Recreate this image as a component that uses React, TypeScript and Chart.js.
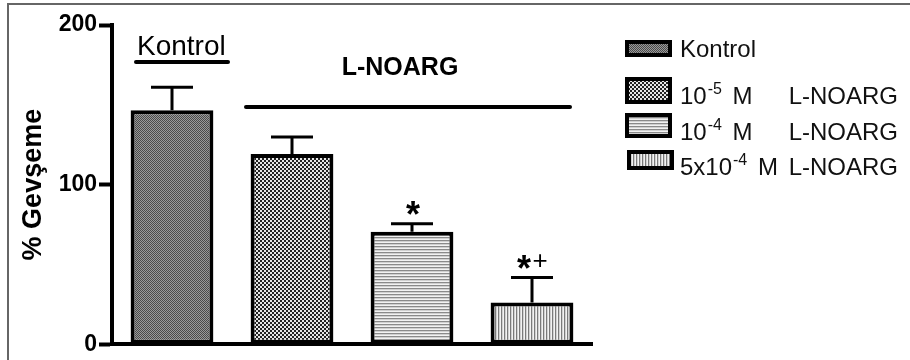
import React, { useEffect, useRef } from "react";
import { Chart, registerables } from "chart.js";
Chart.register(...registerables);

const categories = ["Kontrol", "10^-5 M L-NOARG", "10^-4 M L-NOARG", "5x10^-4 M L-NOARG"];
const means = [146.6, 119.2, 70.5, 26.2];
const sem = [14.4, 10.6, 5.0, 15.6];
const marks = ["", "", "*", "*+"];
const yMin = 0;
const yMax = 200;
const yStep = 100;
const yTitle = "% Gevşeme";
const groupKontrol = "Kontrol";
const groupNoarg = "L-NOARG";
const legendPrefix = [
  [{ t: "Kontrol", sup: false }],
  [{ t: "10", sup: false }, { t: "-5", sup: true }, { t: " M", sup: false }],
  [{ t: "10", sup: false }, { t: "-4", sup: true }, { t: " M", sup: false }],
  [{ t: "5x10", sup: false }, { t: "-4", sup: true }, { t: " M", sup: false }],
];
const legendSuffix = ["", "L-NOARG", "L-NOARG", "L-NOARG"];

const FONT = "'Liberation Sans', Arial, Helvetica, sans-serif";

function makePattern(ctx: CanvasRenderingContext2D, w: number, h: number, draw: (c: CanvasRenderingContext2D) => void) {
  const cv = document.createElement("canvas");
  cv.width = w;
  cv.height = h;
  const c = cv.getContext("2d")!;
  draw(c);
  return ctx.createPattern(cv, "repeat")!;
}

export default function App() {
  const ref = useRef<HTMLCanvasElement>(null);
  useEffect(() => {
    const canvas = ref.current!;
    const ctx = canvas.getContext("2d")!;
    const patterns = [
      makePattern(ctx, 2, 2, (c) => {
        c.fillStyle = "#9a9a9a"; c.fillRect(0, 0, 2, 2);
        c.fillStyle = "#4a4a4a"; c.fillRect(0, 0, 1, 1); c.fillRect(1, 1, 1, 1);
      }),
      makePattern(ctx, 4, 4, (c) => {
        c.fillStyle = "#e6e6e6"; c.fillRect(0, 0, 4, 4);
        c.fillStyle = "#222222"; c.fillRect(0, 0, 2, 2); c.fillRect(2, 2, 2, 2);
      }),
      makePattern(ctx, 1, 3, (c) => {
        c.fillStyle = "#f2f2f2"; c.fillRect(0, 0, 1, 3);
        c.fillStyle = "#8a8a8a"; c.fillRect(0, 0, 1, 1);
        c.fillStyle = "#d0d0d0"; c.fillRect(0, 1, 1, 1);
      }),
      makePattern(ctx, 3, 1, (c) => {
        c.fillStyle = "#f2f2f2"; c.fillRect(0, 0, 3, 1);
        c.fillStyle = "#7a7a7a"; c.fillRect(0, 0, 1, 1);
        c.fillStyle = "#d0d0d0"; c.fillRect(1, 0, 1, 1);
      }),
    ];

    const extras = {
      id: "extras",
      afterDatasetsDraw(chart: any) {
        const c = chart.ctx as CanvasRenderingContext2D;
        const meta = chart.getDatasetMeta(0);
        const ys = chart.scales.y;
        c.save();
        c.strokeStyle = "#000";
        c.lineWidth = 3;
        c.lineCap = "butt";
        meta.data.forEach((bar: any, i: number) => {
          const yTop = ys.getPixelForValue(means[i] + sem[i]);
          c.beginPath();
          c.moveTo(bar.x, bar.y);
          c.lineTo(bar.x, yTop);
          c.moveTo(bar.x - 21, yTop);
          c.lineTo(bar.x + 21, yTop);
          c.stroke();
          const m = marks[i];
          if (m) {
            c.fillStyle = "#000";
            c.textAlign = "center";
            c.textBaseline = "alphabetic";
            if (m.length === 1) {
              c.font = `bold 36px ${FONT}`;
              c.fillText("*", bar.x + 1, yTop + 3);
            } else {
              c.font = `bold 36px ${FONT}`;
              c.fillText(m[0], bar.x - 8, yTop + 4);
              c.font = `26px ${FONT}`;
              c.fillText(m[1], bar.x + 8, yTop - 8);
            }
          }
        });
        const x0 = meta.data[0].x;
        const x1 = meta.data[1].x;
        const x3 = meta.data[3].x;
        c.fillStyle = "#000";
        c.textAlign = "left";
        c.textBaseline = "alphabetic";
        c.font = `28px ${FONT}`;
        c.fillText(groupKontrol, x0 - 35, 55);
        c.lineWidth = 4;
        c.lineCap = "round";
        c.beginPath();
        c.moveTo(x0 - 36, 62);
        c.lineTo(x0 + 56, 62);
        c.stroke();
        c.font = `bold 25px ${FONT}`;
        c.textAlign = "center";
        c.fillText(groupNoarg, (x1 + x3) / 2 - 12, 75);
        c.beginPath();
        c.moveTo(x1 - 46, 107);
        c.lineTo(x3 + 38, 107);
        c.stroke();

        const rows = [
          { y: 40, h: 17, x: 625, base: 57 },
          { y: 77, h: 27, x: 625, base: 104 },
          { y: 113, h: 25, x: 625, base: 140 },
          { y: 150, h: 20, x: 627, base: 175 },
        ];
        rows.forEach((r, i) => {
          c.fillStyle = "#000";
          c.fillRect(r.x, r.y, 47, r.h);
          c.fillStyle = patterns[i];
          c.fillRect(r.x + 4, r.y + 4, 39, r.h - 8);
          let tx = 680;
          c.textAlign = "left";
          c.fillStyle = "#111";
          legendPrefix[i].forEach((seg) => {
            if (seg.sup) {
              c.font = `16px ${FONT}`;
              c.fillText(seg.t, tx + 1, r.base - 10);
              tx += c.measureText(seg.t).width + 5;
            } else {
              c.font = `24px ${FONT}`;
              c.fillText(seg.t, tx, r.base);
              tx += c.measureText(seg.t).width;
            }
          });
          if (legendSuffix[i]) {
            c.font = `24px ${FONT}`;
            c.textAlign = "right";
            c.fillText(legendSuffix[i], 898, r.base);
          }
        });

        c.strokeStyle = "#666";
        c.lineWidth = 2;
        c.lineCap = "butt";
        c.beginPath();
        c.moveTo(8, 360);
        c.lineTo(8, 4);
        c.lineTo(910, 4);
        c.stroke();
        c.restore();
      },
    };

    const chart = new Chart(canvas, {
      type: "bar",
      data: {
        labels: categories,
        datasets: [
          {
            data: means,
            backgroundColor: patterns as any,
            borderColor: "#000",
            borderWidth: 4,
            borderSkipped: false,
            barPercentage: 0.69,
            categoryPercentage: 1,
          },
        ],
      },
      options: {
        responsive: false,
        animation: false,
        events: [],
        layout: { padding: { left: 0, top: 25, right: 318, bottom: 14 } },
        plugins: { legend: { display: false }, tooltip: { enabled: false } },
        scales: {
          x: {
            ticks: { display: false },
            grid: { display: true, drawOnChartArea: false, drawTicks: false, color: "rgba(0,0,0,0)" },
            border: { display: true, width: 4, color: "#000" },
            afterFit: (s: any) => { s.height = 0; },
          },
          y: {
            min: yMin,
            max: yMax,
            ticks: {
              stepSize: yStep,
              color: "#000",
              padding: 2,
              font: { family: FONT, size: 23, weight: "bold" },
            },
            grid: { drawOnChartArea: false, drawTicks: true, tickLength: 13, tickWidth: 4, tickColor: "#000" },
            border: { display: true, width: 4, color: "#000" },
            title: {
              display: true,
              text: yTitle,
              color: "#000",
              padding: { top: 17, bottom: 0 },
              font: { family: FONT, size: 27, weight: "bold" },
            },
            afterFit: (s: any) => { s.width = 112; },
          },
        },
      },
      plugins: [extras],
    });
    return () => chart.destroy();
  }, []);
  return (
    <div style={{ position: "fixed", left: 0, top: 0, width: 910, height: 360, background: "#fff" }}>
      <canvas ref={ref} width={910} height={360} />
    </div>
  );
}
